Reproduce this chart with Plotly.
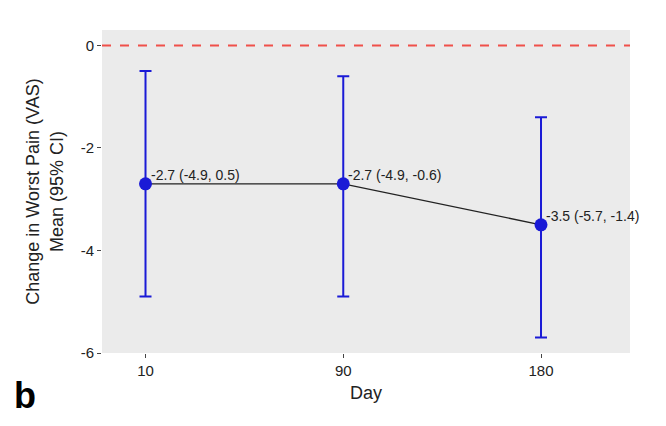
import plotly.graph_objects as go

days = ["10", "90", "180"]
means = [-2.7, -2.7, -3.5]
lower = [-4.9, -4.9, -5.7]
upper = [-0.5, -0.6, -1.4]
labels = ["-2.7 (-4.9, 0.5)", "-2.7 (-4.9, -0.6)", "-3.5 (-5.7, -1.4)"]

x = [0, 1, 2]
fig = go.Figure()
fig.add_hline(y=0, line=dict(color="#f0504a", width=2, dash="dash"))
fig.add_trace(go.Scatter(
    x=x, y=means, mode="lines+markers",
    line=dict(color="#222222", width=1.3),
    marker=dict(color="#1a1ad6", size=13),
    error_y=dict(type="data", symmetric=False,
                 array=[u - m for u, m in zip(upper, means)],
                 arrayminus=[m - l for m, l in zip(means, lower)],
                 color="#1a1ad6", thickness=2, width=6),
    showlegend=False, cliponaxis=False))
anns = [dict(x=xi, y=m, text=t, xanchor="left", yanchor="middle", xshift=3, yshift=9,
             showarrow=False, font=dict(size=14, color="#222"))
        for xi, m, t in zip(x, means, labels)]
anns.append(dict(text="<b>b</b>", x=-0.17, y=-0.2, xref="paper", yref="paper",
                 xanchor="left", yanchor="bottom", showarrow=False,
                 font=dict(size=36, color="black")))
fig.update_layout(
    width=666, height=426, paper_bgcolor="white", plot_bgcolor="#ebebeb",
    margin=dict(l=94, r=44, t=22, b=81),
    font=dict(family="Liberation Sans, Arial", size=15, color="#222"),
    annotations=anns,
    xaxis=dict(tickmode="array", tickvals=x, ticktext=days, range=[-0.22, 2.45],
               showgrid=False, zeroline=False, ticks="outside", ticklen=4,
               tickcolor="#444",
               title=dict(text="Day", standoff=8)),
    yaxis=dict(range=[-6, 0.3], tickvals=[0, -2, -4, -6], ticktext=["0", "-2", "-4", "-6"],
               showgrid=False, zeroline=False, ticks="outside", ticklen=4, tickcolor="#444",
               title=dict(text="Change in Worst Pain (VAS)<br>Mean (95% CI)", standoff=12)),
)
fig.write_html("out.html")
